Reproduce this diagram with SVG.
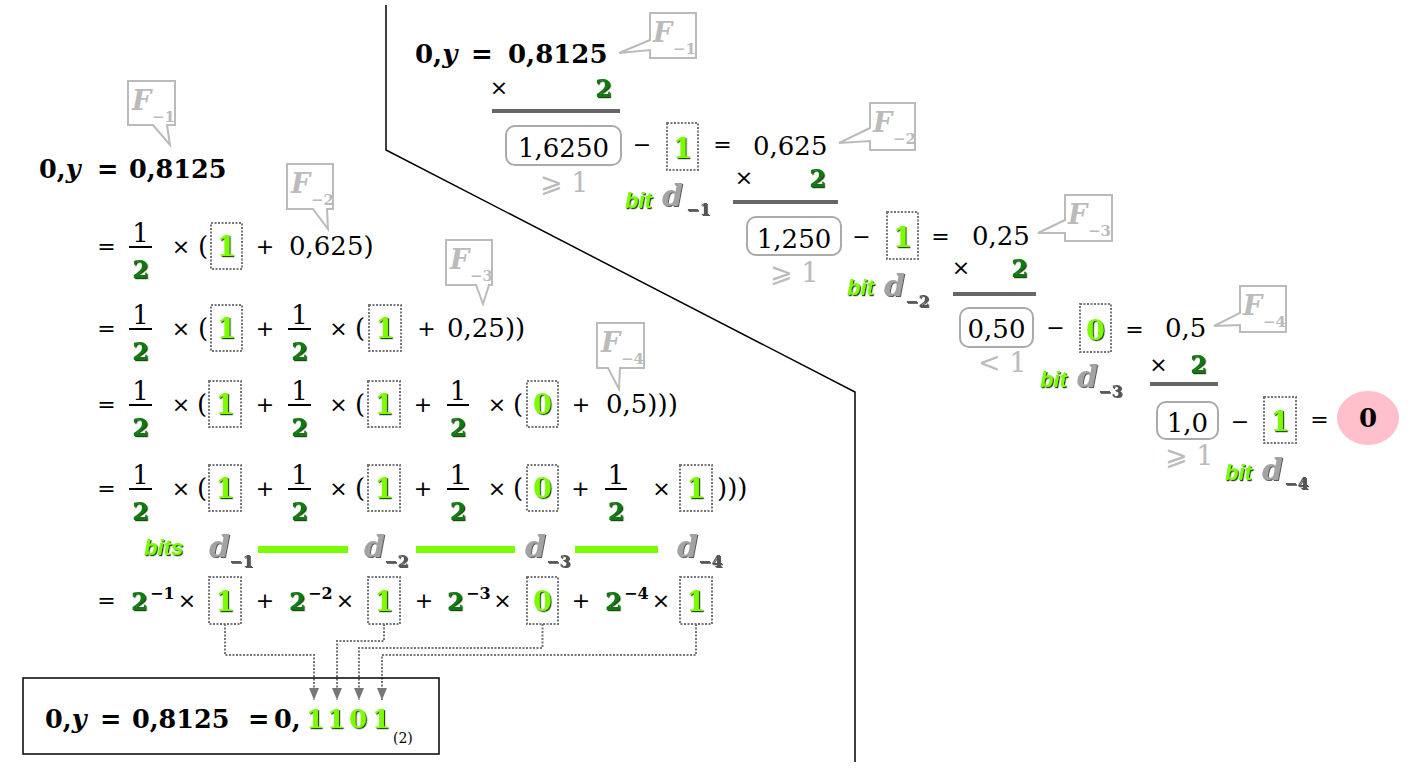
<svg xmlns="http://www.w3.org/2000/svg" width="1422" height="768" viewBox="0 0 1422 768">
<defs>
<filter id="shg" x="-20%" y="-20%" width="150%" height="150%"><feDropShadow dx="1.2" dy="1.2" stdDeviation="0.2" flood-color="#0a3300" flood-opacity="0.9"/></filter>
<filter id="shk" x="-20%" y="-20%" width="150%" height="150%"><feDropShadow dx="1" dy="1" stdDeviation="0.3" flood-color="#333" flood-opacity="0.8"/></filter>
<marker id="ar" viewBox="0 0 10 10" refX="10" refY="5" markerWidth="6" markerHeight="4.5" orient="auto" markerUnits="userSpaceOnUse"><path d="M0,0 L10,5 L0,10 z" fill="#777"/></marker>
<marker id="ar2" viewBox="0 0 12 10" refX="12" refY="5" markerWidth="12" markerHeight="10" orient="auto" markerUnits="userSpaceOnUse"><path d="M0,0 L12,5 L0,10 z" fill="#777"/></marker>
</defs>
<style>
.n{font-family:"DejaVu Serif",serif;font-size:26px;fill:#000}
.b{font-family:"DejaVu Serif",serif;font-weight:bold;font-size:25.5px;fill:#000}
.op{font-family:"DejaVu Sans",sans-serif;font-size:22px;fill:#000;text-anchor:middle}
.g2{font-family:"DejaVu Serif",serif;font-weight:bold;font-size:24px;fill:#0b7a0b;filter:url(#shg)}
.gd{font-family:"DejaVu Serif",serif;font-weight:bold;font-size:27px;fill:#7CFC00;filter:url(#shg);text-anchor:middle}
.bit{font-family:"Liberation Sans",sans-serif;font-weight:bold;font-style:italic;font-size:22px;fill:#7CFC00;filter:url(#shg)}
.d{font-family:"DejaVu Serif",serif;font-weight:bold;font-style:italic;font-size:30px;fill:#a3a3a3;filter:url(#shk)}
.ds{font-family:"DejaVu Serif",serif;font-weight:bold;font-size:16px;fill:#555;filter:url(#shk)}
.sp{font-family:"DejaVu Serif",serif;font-weight:bold;font-size:16px;fill:#000}
.cf{font-family:"DejaVu Serif",serif;font-weight:bold;font-style:italic;font-size:27px;fill:#bbb}
.cs{font-family:"DejaVu Serif",serif;font-weight:bold;font-size:15px;fill:#bbb}
.cb{fill:#fff;stroke:#bbb;stroke-width:2}
.ge{font-family:"DejaVu Serif","DejaVu Sans",serif;font-size:27px;fill:#bbb}
.db{fill:none;stroke:#777;stroke-width:2;stroke-dasharray:2 1.5}
.rb{fill:#fff;stroke:#aaa;stroke-width:2}
.rule{stroke:#666;stroke-width:4}
.fl{stroke:#000;stroke-width:2}
.bar{fill:#7CFC00}
.cn{fill:none;stroke:#777;stroke-width:2;stroke-dasharray:2 1.5;marker-end:url(#ar2)}
</style>
<rect width="1422" height="768" fill="#fff"/>

<g id="divider"><polyline points="386,5 386,150 855,392 855,762" fill="none" stroke="#000" stroke-width="1.5"/></g>

<!-- left callouts -->
<g id="callout-left-F1"><path class="cb" d="M128,81 H175 V125 H167 L170,145 L153,125 H128 Z"/><text class="cf" x="132" y="110">F</text><text class="cs" x="152" y="122">−1</text></g>
<g id="callout-left-F2"><path class="cb" d="M287,164 H333 V209 H327 L328,229 L313,209 H287 Z"/><text class="cf" x="291" y="193">F</text><text class="cs" x="311" y="205">−2</text></g>
<g id="callout-left-F3"><path class="cb" d="M446,240 H492 V285 H489 L483,304 L476,285 H446 Z"/><text class="cf" x="450" y="269">F</text><text class="cs" x="470" y="281">−3</text></g>
<g id="callout-left-F4"><path class="cb" d="M597,323 H644 V368 H620 L619,389 L608,368 H597 Z"/><text class="cf" x="601" y="352">F</text><text class="cs" x="621" y="364">−4</text></g>

<!-- left row 0 -->
<g id="left-row0"><text class="b" x="39" y="178">0,<tspan font-style="italic">y</tspan></text><text class="b" x="97" y="178">=</text><text class="b" x="129" y="178">0,8125</text></g>

<!-- row 1 -->
<g id="left-row1">
<text class="op" x="106.5" y="254">=</text>
<line class="fl" x1="129" y1="247" x2="152" y2="247"/><text class="n" x="140.5" y="242" text-anchor="middle">1</text><text class="g2" x="140.5" y="278" text-anchor="middle">2</text>
<text class="op" x="181" y="254">×</text><text class="n" x="198" y="255">(</text>
<rect class="db" x="211" y="223" width="31" height="46"/><text class="gd" x="226.5" y="256">1</text>
<text class="op" x="265" y="254">+</text><text class="n" x="289" y="255">0,625)</text>
</g>

<!-- row 2 -->
<g id="left-row2">
<text class="op" x="106.5" y="336">=</text>
<line class="fl" x1="129" y1="329" x2="152" y2="329"/><text class="n" x="140.5" y="324" text-anchor="middle">1</text><text class="g2" x="140.5" y="360" text-anchor="middle">2</text>
<text class="op" x="181" y="336">×</text><text class="n" x="198" y="337">(</text>
<rect class="db" x="211" y="305" width="31" height="46"/><text class="gd" x="226.5" y="338">1</text>
<text class="op" x="265" y="336">+</text>
<line class="fl" x1="288" y1="329" x2="311" y2="329"/><text class="n" x="299.5" y="324" text-anchor="middle">1</text><text class="g2" x="299.5" y="360" text-anchor="middle">2</text>
<text class="op" x="338.5" y="336">×</text><text class="n" x="355" y="337">(</text>
<rect class="db" x="369" y="305" width="32" height="46"/><text class="gd" x="385" y="338">1</text>
<text class="op" x="426.5" y="336">+</text><text class="n" x="447" y="337">0,25))</text>
</g>

<!-- row 3 -->
<g id="left-row3">
<text class="op" x="106.5" y="412">=</text>
<line class="fl" x1="129" y1="405" x2="152" y2="405"/><text class="n" x="140.5" y="400" text-anchor="middle">1</text><text class="g2" x="140.5" y="436" text-anchor="middle">2</text>
<text class="op" x="181" y="412">×</text><text class="n" x="197" y="413">(</text>
<rect class="db" x="209" y="381" width="32" height="46"/><text class="gd" x="225" y="414">1</text>
<text class="op" x="265" y="412">+</text>
<line class="fl" x1="288" y1="405" x2="311" y2="405"/><text class="n" x="299.5" y="400" text-anchor="middle">1</text><text class="g2" x="299.5" y="436" text-anchor="middle">2</text>
<text class="op" x="338.5" y="412">×</text><text class="n" x="355" y="413">(</text>
<rect class="db" x="368" y="381" width="32" height="46"/><text class="gd" x="384" y="414">1</text>
<text class="op" x="423" y="412">+</text>
<line class="fl" x1="447" y1="405" x2="469" y2="405"/><text class="n" x="458" y="400" text-anchor="middle">1</text><text class="g2" x="458" y="436" text-anchor="middle">2</text>
<text class="op" x="497" y="412">×</text><text class="n" x="513" y="413">(</text>
<rect class="db" x="527" y="381" width="31" height="46"/><text class="gd" x="542.5" y="414">0</text>
<text class="op" x="581" y="412">+</text><text class="n" x="606" y="413">0,5)))</text>
</g>

<!-- row 4 -->
<g id="left-row4">
<text class="op" x="106.5" y="496">=</text>
<line class="fl" x1="129" y1="489" x2="152" y2="489"/><text class="n" x="140.5" y="484" text-anchor="middle">1</text><text class="g2" x="140.5" y="520" text-anchor="middle">2</text>
<text class="op" x="181" y="496">×</text><text class="n" x="197" y="497">(</text>
<rect class="db" x="209" y="465" width="32" height="46"/><text class="gd" x="225" y="498">1</text>
<text class="op" x="265" y="496">+</text>
<line class="fl" x1="288" y1="489" x2="311" y2="489"/><text class="n" x="299.5" y="484" text-anchor="middle">1</text><text class="g2" x="299.5" y="520" text-anchor="middle">2</text>
<text class="op" x="338.5" y="496">×</text><text class="n" x="355" y="497">(</text>
<rect class="db" x="368" y="465" width="32" height="46"/><text class="gd" x="384" y="498">1</text>
<text class="op" x="423" y="496">+</text>
<line class="fl" x1="447" y1="489" x2="469" y2="489"/><text class="n" x="458" y="484" text-anchor="middle">1</text><text class="g2" x="458" y="520" text-anchor="middle">2</text>
<text class="op" x="497" y="496">×</text><text class="n" x="513" y="497">(</text>
<rect class="db" x="527" y="465" width="31" height="46"/><text class="gd" x="542.5" y="498">0</text>
<text class="op" x="580.5" y="496">+</text>
<line class="fl" x1="605" y1="489" x2="627" y2="489"/><text class="n" x="616" y="484" text-anchor="middle">1</text><text class="g2" x="616" y="520" text-anchor="middle">2</text>
<text class="op" x="661.5" y="496">×</text>
<rect class="db" x="680" y="465" width="32" height="46"/><text class="gd" x="696" y="498">1</text>
<text class="n" x="717" y="497">)))</text>
</g>

<!-- bits row -->
<g id="bits-row">
<text class="bit" x="144" y="555">bits</text>
<text class="d" x="209" y="557">d</text><text class="ds" x="229" y="567">−1</text>
<rect class="bar" x="258" y="546" width="90" height="7"/>
<text class="d" x="364" y="557">d</text><text class="ds" x="384" y="567">−2</text>
<rect class="bar" x="416" y="546" width="99" height="7"/>
<text class="d" x="525" y="557">d</text><text class="ds" x="546" y="567">−3</text>
<rect class="bar" x="575" y="546" width="83" height="7"/>
<text class="d" x="677" y="557">d</text><text class="ds" x="698" y="567">−4</text>
</g>

<!-- row 6 powers -->
<g id="left-row6">
<text class="op" x="106.5" y="608">=</text>
<text class="g2" x="131" y="610">2</text><text class="sp" x="150" y="599">−1</text>
<text class="op" x="187" y="608">×</text>
<rect class="db" x="209" y="577" width="32" height="47"/><text class="gd" x="225" y="611">1</text>
<text class="op" x="265" y="608">+</text>
<text class="g2" x="289" y="610">2</text><text class="sp" x="308" y="599">−2</text>
<text class="op" x="345" y="608">×</text>
<rect class="db" x="368" y="577" width="32" height="47"/><text class="gd" x="384" y="611">1</text>
<text class="op" x="424" y="608">+</text>
<text class="g2" x="447" y="610">2</text><text class="sp" x="466" y="599">−3</text>
<text class="op" x="502.5" y="608">×</text>
<rect class="db" x="527" y="577" width="31" height="47"/><text class="gd" x="542.5" y="611">0</text>
<text class="op" x="581" y="608">+</text>
<text class="g2" x="605" y="610">2</text><text class="sp" x="624" y="599">−4</text>
<text class="op" x="661" y="608">×</text>
<rect class="db" x="680" y="577" width="32" height="47"/><text class="gd" x="696" y="611">1</text>
</g>

<!-- connectors -->
<g id="connectors">
<path class="cn" d="M225,624 V655 H314 V700"/>
<path class="cn" d="M384,624 V641 H337 V700"/>
<path class="cn" d="M542.5,624 V648 H359 V700"/>
<path class="cn" d="M696,624 V655 H382 V700"/>
</g>

<!-- result box -->
<g id="result">
<rect x="23" y="678" width="416" height="76" fill="none" stroke="#000" stroke-width="1.5"/>
<text class="b" x="45" y="728">0,<tspan font-style="italic">y</tspan></text>
<text class="b" x="100" y="728">=</text>
<text class="b" x="132" y="728">0,8125</text>
<text class="b" x="248" y="728">=</text>
<text class="b" x="274" y="728">0,</text>
<text class="gd" x="315" y="728" style="font-size:26px">1</text>
<text class="gd" x="336" y="728" style="font-size:26px">1</text>
<text class="gd" x="358" y="728" style="font-size:26px">0</text>
<text class="gd" x="381" y="728" style="font-size:26px">1</text>
<text class="n" x="393" y="743" style="font-size:14px">(2)</text>
</g>

<!-- right panel -->
<g id="right-rowA">
<text class="b" x="415" y="63" style="font-size:26px">0,<tspan font-style="italic">y</tspan></text>
<text class="b" x="471" y="63" style="font-size:26px">=</text>
<text class="b" x="508" y="63" style="font-size:26px">0,8125</text>
<path class="cb" d="M650,13 H696 V58 H650 V50 L619,53 L650,40 Z"/><text class="cf" x="653" y="42">F</text><text class="cs" x="673" y="54">−1</text>
<text class="op" x="499" y="95">×</text><text class="g2" x="612" y="97" text-anchor="end">2</text>
<line class="rule" x1="492" y1="111" x2="620" y2="111"/>
</g>

<g id="right-rowB">
<rect class="rb" x="506" y="126" width="115" height="39" rx="9"/>
<text class="n" x="563.5" y="157" text-anchor="middle">1,6250</text>
<text class="op" x="642" y="152">−</text>
<rect class="db" x="667" y="123" width="31" height="47"/><text class="gd" x="682.5" y="158">1</text>
<text class="op" x="722.5" y="152">=</text>
<text class="n" x="753" y="155">0,625</text>
<path class="cb" d="M870,103 H915 V150 H870 V141 L839,143 L870,128 Z"/><text class="cf" x="873" y="132">F</text><text class="cs" x="893" y="144">−2</text>
<text class="ge" x="540" y="192">⩾ 1</text>
<text class="bit" x="625" y="208">bit</text><text class="d" x="662" y="206">d</text><text class="ds" x="686" y="215">−1</text>
<text class="op" x="744" y="185">×</text><text class="g2" x="826" y="187" text-anchor="end">2</text>
<line class="rule" x1="733" y1="202" x2="838" y2="202"/>
</g>

<g id="right-rowC">
<rect class="rb" x="747" y="217" width="94" height="38" rx="9"/>
<text class="n" x="794" y="248" text-anchor="middle">1,250</text>
<text class="op" x="861.5" y="244">−</text>
<rect class="db" x="887" y="212" width="31" height="47"/><text class="gd" x="902.5" y="247">1</text>
<text class="op" x="940.5" y="244">=</text>
<text class="n" x="972" y="245">0,25</text>
<path class="cb" d="M1065,195 H1112 V241 H1065 V233 L1038,233 L1065,220 Z"/><text class="cf" x="1068" y="224">F</text><text class="cs" x="1088" y="236">−3</text>
<text class="ge" x="770" y="282">⩾ 1</text>
<text class="bit" x="847" y="295">bit</text><text class="d" x="884" y="296">d</text><text class="ds" x="905" y="307">−2</text>
<text class="op" x="961" y="275">×</text><text class="g2" x="1028" y="277" text-anchor="end">2</text>
<line class="rule" x1="953" y1="294" x2="1036" y2="294"/>
</g>

<g id="right-rowD">
<rect class="rb" x="960" y="308" width="73" height="39" rx="9"/>
<text class="n" x="996.5" y="338" text-anchor="middle">0,50</text>
<text class="op" x="1055.5" y="335">−</text>
<rect class="db" x="1080" y="304" width="31" height="48"/><text class="gd" x="1095.5" y="340">0</text>
<text class="op" x="1134.5" y="337">=</text>
<text class="n" x="1165" y="337">0,5</text>
<path class="cb" d="M1240,286 H1286 V332 H1240 V325 L1214,326 L1240,313 Z"/><text class="cf" x="1243" y="315">F</text><text class="cs" x="1263" y="327">−4</text>
<text class="ge" x="978" y="372">&lt; 1</text>
<text class="bit" x="1040" y="387">bit</text><text class="d" x="1077" y="387">d</text><text class="ds" x="1098" y="397">−3</text>
<text class="op" x="1158.5" y="372">×</text><text class="g2" x="1207" y="373" text-anchor="end">2</text>
<line class="rule" x1="1150" y1="384" x2="1218" y2="384"/>
</g>

<g id="right-rowE">
<rect class="rb" x="1157" y="402" width="61" height="37" rx="9"/>
<text class="n" x="1187.5" y="432" text-anchor="middle">1,0</text>
<text class="op" x="1240" y="429">−</text>
<rect class="db" x="1264" y="397" width="32" height="46"/><text class="gd" x="1280" y="431">1</text>
<text class="op" x="1319.5" y="427">=</text>
<ellipse cx="1368" cy="418" rx="31" ry="27" fill="#FFC0CB"/>
<text class="b" x="1368" y="427" text-anchor="middle" style="font-size:26px">0</text>
<text class="ge" x="1165" y="465">⩾ 1</text>
<text class="bit" x="1225" y="480">bit</text><text class="d" x="1262" y="480">d</text><text class="ds" x="1284" y="489">−4</text>
</g>
</svg>
